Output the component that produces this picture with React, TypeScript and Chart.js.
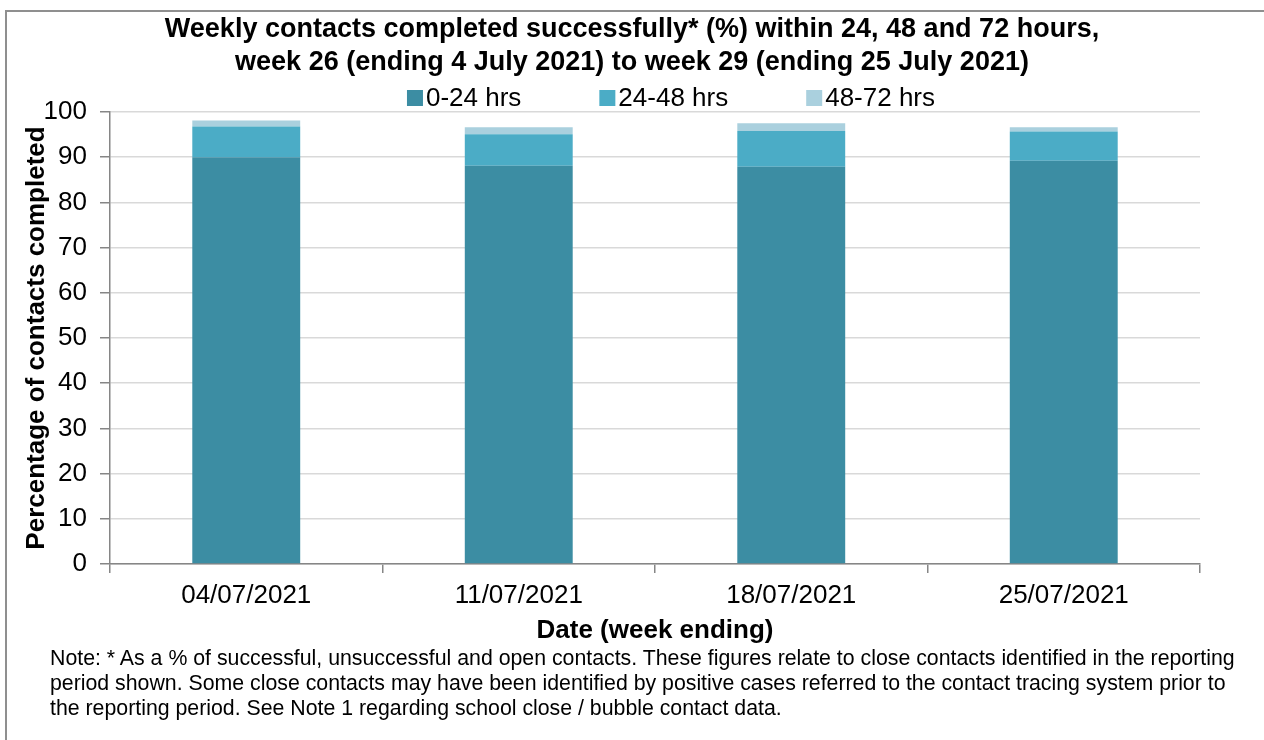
import React, { useEffect, useRef } from "react";
import { Chart, registerables } from "chart.js";

Chart.register(...registerables);

const FONT = "'Liberation Sans', Arial, Helvetica, sans-serif";

const categories = ["04/07/2021", "11/07/2021", "18/07/2021", "25/07/2021"];
const seriesLabels = ["0-24 hrs", "24-48 hrs", "48-72 hrs"];
const hrs0to24 = [90.0, 88.1, 87.9, 89.2];
const hrs24to48 = [6.8, 7.0, 7.9, 6.5];
const hrs48to72 = [1.3, 1.5, 1.7, 0.9];
const seriesColors = ["#3C8DA3", "#4BACC6", "#AAD0DE"];

const yMin = 0;
const yMax = 100;
const yStep = 10;

const titleLines = [
  "Weekly contacts completed successfully* (%) within 24, 48 and 72 hours,",
  "week 26 (ending 4 July 2021) to week 29 (ending 25 July 2021)",
];
const yAxisTitle = "Percentage of contacts completed";
const xAxisTitle = "Date (week ending)";
const noteLines = [
  "Note: * As a % of successful, unsuccessful and open contacts. These figures relate to close contacts identified in the reporting",
  "period shown. Some close contacts may have been identified by positive cases referred to the contact tracing system prior to",
  "the reporting period. See Note 1 regarding school close / bubble contact data.",
];

const legendPlugin = {
  id: "customLegend",
  afterDraw(chart: any) {
    const ctx = chart.ctx;
    const area = chart.chartArea;
    ctx.save();
    ctx.font = `26px ${FONT}`;
    const box = 16;
    const gapBoxText = 3;
    const gapItems = 78;
    const items = chart.data.datasets.map((ds: any) => ({
      text: ds.label as string,
      color: ds.backgroundColor as string,
      w: ctx.measureText(ds.label).width,
    }));
    const total =
      items.reduce((s: number, it: any) => s + box + gapBoxText + it.w, 0) +
      gapItems * (items.length - 1);
    let x = (area.left + area.right) / 2 + 16 - total / 2;
    const yc = area.top - 14;
    ctx.textBaseline = "middle";
    ctx.textAlign = "left";
    for (const it of items) {
      ctx.fillStyle = it.color;
      ctx.fillRect(x, yc - box / 2, box, box);
      ctx.fillStyle = "#000";
      ctx.fillText(it.text, x + box + gapBoxText, yc + 1);
      x += box + gapBoxText + it.w + gapItems;
    }
    ctx.restore();
  },
};

export default function App() {
  const canvasRef = useRef<HTMLCanvasElement | null>(null);

  useEffect(() => {
    if (!canvasRef.current) return;
    Chart.defaults.font.family = FONT;
    Chart.defaults.color = "#000";
    const values = [hrs0to24, hrs24to48, hrs48to72];
    const chart = new Chart(canvasRef.current, {
      type: "bar",
      data: {
        labels: categories,
        datasets: seriesLabels.map((label, i) => ({
          label,
          data: values[i],
          backgroundColor: seriesColors[i],
          borderWidth: 0,
          barPercentage: 0.396,
          categoryPercentage: 1,
          yAxisID: "y",
        })),
      },
      options: {
        animation: false,
        responsive: true,
        maintainAspectRatio: false,
        layout: { padding: { left: 10, right: 10, top: 0, bottom: 92 } },
        plugins: {
          legend: { display: false },
          tooltip: { enabled: false },
          title: {
            display: true,
            text: titleLines,
            color: "#000",
            font: { family: FONT, size: 27, weight: "bold", lineHeight: 33 / 27 },
            padding: { top: 13, bottom: 33 },
          },
        },
        scales: {
          x: {
            stacked: true,
            offset: true,
            grid: {
              offset: true,
              drawOnChartArea: false,
              drawTicks: true,
              tickLength: 9,
              tickColor: "#868686",
              lineWidth: 1.5,
            },
            border: { display: true, color: "#868686", width: 1.5 },
            ticks: { color: "#000", font: { family: FONT, size: 26 }, padding: 7, maxRotation: 0 },
            title: {
              display: true,
              text: xAxisTitle,
              color: "#000",
              font: { family: FONT, size: 26, weight: "bold" },
              padding: { top: 0, bottom: 2 },
            },
            afterFit: (scale: any) => {
              scale.height = 84;
            },
          },
          y: {
            stacked: true,
            min: yMin,
            max: yMax,
            position: "left",
            grid: {
              color: "#D9D9D9",
              lineWidth: 1.5,
              drawTicks: true,
              tickLength: 10,
              tickColor: "#868686",
            },
            border: { display: true, color: "#868686", width: 1.5 },
            ticks: {
              stepSize: yStep,
              color: "#000",
              font: { family: FONT, size: 26 },
              padding: 13,
            },
            title: {
              display: true,
              text: yAxisTitle,
              color: "#000",
              font: { family: FONT, size: 26, weight: "bold" },
              padding: { top: 11, bottom: 0 },
            },
            afterFit: (scale: any) => {
              scale.width = 100;
            },
          },
          yRight: {
            position: "right",
            display: true,
            grid: { display: false, drawTicks: false },
            border: { display: false },
            ticks: { display: false },
            afterFit: (scale: any) => {
              scale.width = 54;
            },
          },
        },
      } as any,
      plugins: [legendPlugin],
    });
    return () => chart.destroy();
  }, []);

  return (
    <div>
      <div
        style={{
          position: "fixed",
          left: 5,
          top: 10,
          width: 1400,
          height: 900,
          border: "2px solid #8f8f8f",
          boxSizing: "border-box",
          pointerEvents: "none",
        }}
      />
      <div style={{ position: "fixed", left: 0, top: 0, width: 1264, height: 740 }}>
        <canvas ref={canvasRef} />
      </div>
      <div
        style={{
          position: "fixed",
          left: 50,
          top: 646,
          fontFamily: FONT,
          fontSize: 21.3,
          lineHeight: "25px",
          color: "#000",
          whiteSpace: "nowrap",
        }}
      >
        {noteLines.map((line, i) => (
          <div key={i}>{line}</div>
        ))}
      </div>
    </div>
  );
}
